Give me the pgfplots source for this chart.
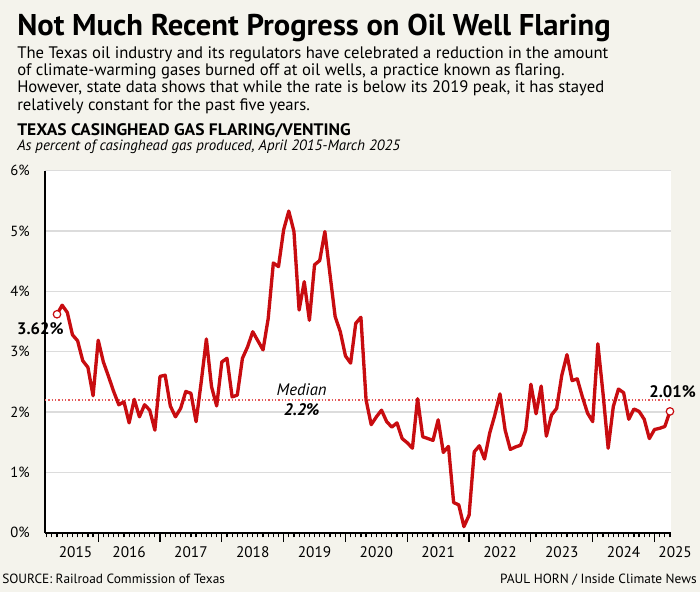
\documentclass[border=0pt]{standalone}
\usepackage{fontspec}
\setmainfont{PT Sans}
\newfontfamily\titlefont{PT Sans}[FakeStretch=1.02]
\newfontfamily\bodyfont{PT Sans}
\newfontfamily\subfont{PT Sans}[FakeStretch=1.05]
\usepackage{pgfplots}
\pgfplotsset{compat=1.18}
\definecolor{bg}{RGB}{244,243,236}
\definecolor{gridc}{RGB}{220,220,220}
\definecolor{linec}{RGB}{200,12,16}
\definecolor{medc}{RGB}{228,90,90}
\pgfplotstableread{
i v
0 3.62
1 3.77
2 3.65
3 3.28
4 3.18
5 2.85
6 2.74
7 2.27
8 3.19
9 2.83
10 2.59
11 2.34
12 2.12
13 2.17
14 1.82
15 2.21
16 1.92
17 2.12
18 2.03
19 1.70
20 2.59
21 2.61
22 2.10
23 1.92
24 2.06
25 2.34
26 2.31
27 1.84
28 2.50
29 3.21
30 2.42
31 2.10
32 2.83
33 2.89
34 2.25
35 2.28
36 2.89
37 3.08
38 3.33
39 3.18
40 3.03
41 3.55
42 4.47
43 4.41
44 5.02
45 5.33
46 4.99
47 3.69
48 4.16
49 3.52
50 4.44
51 4.51
52 4.99
53 4.28
54 3.58
55 3.33
56 2.93
57 2.81
58 3.47
59 3.57
60 2.20
61 1.79
62 1.92
63 2.03
64 1.84
65 1.75
66 1.82
67 1.56
68 1.49
69 1.40
70 2.22
71 1.59
72 1.56
73 1.53
74 1.87
75 1.33
76 1.43
77 0.50
78 0.46
79 0.10
80 0.29
81 1.34
82 1.44
83 1.22
84 1.65
85 1.95
86 2.30
87 1.70
88 1.38
89 1.42
90 1.45
91 1.70
92 2.46
93 1.97
94 2.43
95 1.60
96 1.95
97 2.06
98 2.61
99 2.95
100 2.52
101 2.55
102 2.25
103 1.98
104 1.84
105 3.13
106 2.31
107 1.40
108 2.09
109 2.38
110 2.32
111 1.88
112 2.05
113 2.01
114 1.88
115 1.56
116 1.71
117 1.73
118 1.76
119 2.01
}\flaring
\begin{document}
\begin{tikzpicture}
\useasboundingbox (0,0) rectangle (525pt,-444pt);
\fill[bg] (0,0) rectangle (525pt,-444pt);
\begin{axis}[
  at={(33.75pt,-399.5pt)}, anchor=south west,
  scale only axis, width=469.5pt, height=271.5pt,
  xmin=-2.33, xmax=119.2, ymin=0, ymax=6,
  axis x line*=bottom, axis y line*=left,
  axis line style={-, line width=1.5pt, black},
  axis background/.style={fill=white},
  clip=false,
  ytick={0,1,2,3,4,5,6},
  yticklabels={0\%,1\%,2\%,3\%,4\%,5\%,6\%},
  ytick style={draw=none},
  yticklabel style={font=\fontsize{11}{12}\selectfont, anchor=east, xshift=-1pt},
  ymajorgrids, grid style={gridc, line width=1.2pt},
  xtick={8,20,32,44,56,68,80,92,104,116},
  xticklabels={},
  minor xtick={-2,-1,...,119},
  tick align=outside,
  x tick style={black, line width=0.9pt},
  major tick length=7pt, minor tick length=3.5pt,
  xmajorgrids=false,
]
\addplot[medc, line width=0.9pt, dash pattern=on 1pt off 1.5pt] coordinates {(-2.33,2.2) (119.2,2.2)};
\addplot[linec, line width=2.5pt, line join=round] table[x=i,y=v] {\flaring};
\addplot[only marks, mark=*, mark size=2.8pt, mark options={fill=white, draw=linec, line width=0.9pt}] coordinates {(0,3.62) (119,2.01)};
\foreach \xx/\yy in {3.6/2015,14/2016,26/2017,38/2018,50/2019,62/2020,74/2021,86/2022,98/2023,110/2024,120/2025}{
  \edef\tmp{\noexpand\node[anchor=base, font=\noexpand\fontsize{11.5}{12}\noexpand\selectfont, inner sep=0] at ([yshift=-18.5pt]axis cs:\xx,0) {\yy};}
  \tmp
}
\node[anchor=center, font=\fontsize{12.5}{14}\selectfont\itshape] at ([yshift=7.5pt]axis cs:47.5,2.2) {Median};
\node[anchor=center, font=\fontsize{12.5}{14}\selectfont\bfseries\itshape] at ([yshift=-7pt]axis cs:47.5,2.2) {2.2\%};
\node[anchor=center, font=\fontsize{12.5}{14}\selectfont\bfseries] at ([xshift=-12.5pt,yshift=-10.5pt]axis cs:0,3.62) {3.62\%};
\node[anchor=center, font=\fontsize{12.5}{14}\selectfont\bfseries] at ([xshift=2pt,yshift=14.5pt]axis cs:119,2.01) {2.01\%};
\end{axis}
\begin{scope}[x=0.75pt,y=-0.75pt]
\node[anchor=base west, inner sep=0] at (17,36) {\titlefont\bfseries\fontsize{22.5}{26}\selectfont Not Much Recent Progress on Oil Well Flaring};
\node[anchor=base west, inner sep=0] at (17,58.3) {\bodyfont\fontsize{12.5}{14}\selectfont The Texas oil industry and its regulators have celebrated a reduction in the amount};
\node[anchor=base west, inner sep=0] at (17,75.7) {\bodyfont\fontsize{12.5}{14}\selectfont of climate-warming gases burned off at oil wells, a practice known as flaring.};
\node[anchor=base west, inner sep=0] at (17,93) {\bodyfont\fontsize{12.5}{14}\selectfont However, state data shows that while the rate is below its 2019 peak, it has stayed};
\node[anchor=base west, inner sep=0] at (17,110.3) {\bodyfont\fontsize{12.5}{14}\selectfont relatively constant for the past five years.};
\node[anchor=base west, inner sep=0] at (17,136) {\subfont\bfseries\fontsize{12.5}{14}\selectfont TEXAS CASINGHEAD GAS FLARING/VENTING};
\node[anchor=base west, inner sep=0] at (17,150.5) {\bodyfont\itshape\fontsize{11.2}{13}\selectfont As percent of casinghead gas produced, April 2015-March 2025};
\node[anchor=base west, inner sep=0] at (2,583) {\bodyfont\fontsize{10}{12}\selectfont SOURCE: Railroad Commission of Texas};
\node[anchor=base east, inner sep=0] at (697,583) {\bodyfont\fontsize{10}{12}\selectfont PAUL HORN / Inside Climate News};
\end{scope}
\end{tikzpicture}
\end{document}
